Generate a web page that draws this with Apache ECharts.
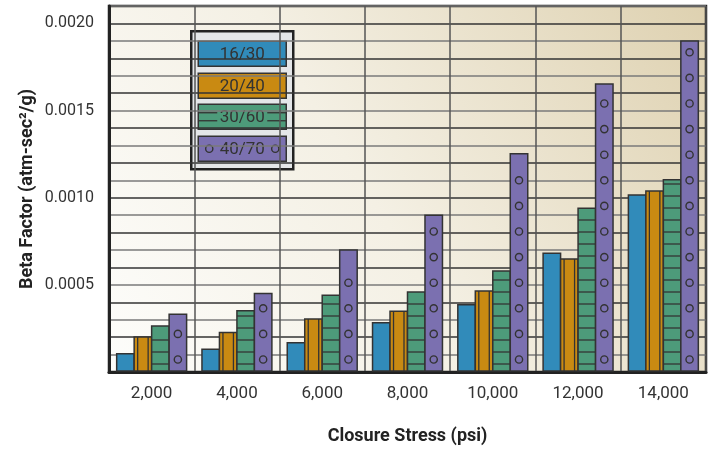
<!DOCTYPE html>
<html>
<head>
<meta charset="utf-8">
<script src="https://cdn.jsdelivr.net/npm/echarts@6/dist/echarts.min.js"></script>
<style>
  html, body { margin: 0; padding: 0; background: #fff; }
  #chart { width: 713px; height: 453px; }
</style>
</head>
<body>
<div id="chart"></div>
<script>
// data
var categories = ["2,000", "4,000", "6,000", "8,000", "10,000", "12,000", "14,000"];
var seriesNames = ["16/30", "20/40", "30/60", "40/70"];
var mesh1630 = [0.000105, 0.000130, 0.000168, 0.000283, 0.000386, 0.000681, 0.001015];
var mesh2040 = [0.000201, 0.000226, 0.000304, 0.000348, 0.000465, 0.000648, 0.001038];
var mesh3060 = [0.000264, 0.000352, 0.000440, 0.000459, 0.000579, 0.000939, 0.001103];
var mesh4070 = [0.000331, 0.000451, 0.000700, 0.000899, 0.001252, 0.001652, 0.001899];
var yTickLabels = ["0.0005", "0.0010", "0.0015", "0.0020"];

var colors = ["#318bba", "#c98a12", "#4d9b7a", "#7b70b0"];
var FONT = "Roboto, 'Liberation Sans', sans-serif";
var INK = "#333";

function makeRender(idx) {
  return function (params, api) {
    var c = api.value(0), v = api.value(1);
    var band = api.size([1, 0])[0];
    var bw = band * 0.205;
    var p0 = api.coord([c, 0]);
    var base = p0[1] - 1;
    var top = api.coord([c, v])[1];
    var x = p0[0] - 2 * bw + idx * bw;
    var kids = [{
      type: "rect",
      shape: { x: x, y: top, width: bw, height: base - top },
      style: { fill: colors[idx], stroke: INK, lineWidth: 1.5 }
    }];
    if (idx === 1) {
      [3.5, bw - 3.5].forEach(function (dx) {
        kids.push({ type: "line", shape: { x1: x + dx, y1: top, x2: x + dx, y2: base },
          style: { stroke: INK, lineWidth: 1.3 } });
      });
    } else if (idx === 2) {
      for (var y = base - 7; y > top + 4; y -= 12) {
        kids.push({ type: "line", shape: { x1: x, y1: y, x2: x + bw, y2: y },
          style: { stroke: INK, lineWidth: 1.3 } });
      }
    } else if (idx === 3) {
      for (var cy = base - 11.5; cy > top + 8; cy -= 25.6) {
        kids.push({ type: "circle", shape: { cx: x + bw / 2, cy: cy, r: 3.6 },
          style: { fill: "none", stroke: INK, lineWidth: 1.4 } });
      }
    }
    return { type: "group", children: kids };
  };
}

var allValues = [mesh1630, mesh2040, mesh3060, mesh4070];
var series = allValues.map(function (vals, i) {
  return {
    name: seriesNames[i],
    type: "custom",
    renderItem: makeRender(i),
    encode: { x: 0, y: 1 },
    data: vals.map(function (v, j) { return [j, v]; })
  };
});

// legend box drawn as graphic (text sits inside the swatches)
function legendItem(i, top) {
  var kids = [{
    type: "rect", shape: { x: 0, y: 0, width: 88, height: 25 },
    style: { fill: colors[i], stroke: INK, lineWidth: 1.5 }
  }];
  if (i === 2) {
    [[0, 19], [69, 88]].forEach(function (r) {
      [8.5, 16.5].forEach(function (yy) {
        kids.push({ type: "line", shape: { x1: r[0], y1: yy, x2: r[1], y2: yy },
          style: { stroke: INK, lineWidth: 1.3 } });
      });
    });
  }
  if (i === 3) {
    [11, 77].forEach(function (cx) {
      kids.push({ type: "circle", shape: { cx: cx, cy: 12.5, r: 3.6 },
        style: { fill: "none", stroke: INK, lineWidth: 1.4 } });
    });
  }
  kids.push({
    type: "text", x: 44, y: 13,
    style: {
      text: seriesNames[i], fontSize: 17, fontFamily: FONT, fontStyle: "normal",
      fill: INK, align: "center", verticalAlign: "middle"
    }
  });
  return { type: "group", x: 7, y: top, children: kids };
}

var option = {
  animation: false,
  backgroundColor: "#fff",
  grid: {
    left: 109, right: 7, top: 6, bottom: 81,
    outerBoundsMode: "none",
    show: true,
    borderColor: "#222",
    borderWidth: 2.5,
    backgroundColor: new echarts.graphic.LinearGradient(0, 1, 1, 0, [
      { offset: 0, color: "#fdfdfb" },
      { offset: 0.45, color: "#f4f0e4" },
      { offset: 1, color: "#ded1b0" }
    ])
  },
  xAxis: {
    type: "category",
    data: categories,
    name: "Closure Stress (psi)",
    nameLocation: "middle",
    nameGap: 55,
    nameTextStyle: { fontFamily: FONT, fontSize: 18, fontWeight: "bold", color: "#222" },
    axisLine: { lineStyle: { color: "#222", width: 3 } },
    axisTick: { show: false },
    axisLabel: { fontFamily: FONT, fontSize: 17, color: INK, margin: 13 },
    splitLine: { show: true, interval: 0, lineStyle: { color: "#555", width: 1.5 } }
  },
  yAxis: {
    type: "value",
    min: 0,
    max: 0.0021,
    interval: 0.0001,
    name: "Beta Factor (atm-sec²/g)",
    nameLocation: "middle",
    nameGap: 73,
    nameMoveOverlap: false,
    nameTextStyle: { fontFamily: FONT, fontSize: 18, fontWeight: "bold", color: "#222" },
    axisLine: { show: true, lineStyle: { color: "#222", width: 3 } },
    axisTick: { show: false },
    axisLabel: {
      fontFamily: FONT, fontSize: 16, color: INK, margin: 15,
      formatter: function (v) {
        var s = v.toFixed(4);
        return yTickLabels.indexOf(s) >= 0 ? s : "";
      }
    },
    splitLine: { show: true, lineStyle: { color: ["#333", "#7a7a7a"], width: 1.5 } }
  },
  series: series,
  graphic: [{
    type: "group",
    left: 190, top: 30,
    z: 100,
    children: [{
      type: "rect", shape: { x: 0, y: 0, width: 102, height: 138 },
      style: { fill: "#e4e6e8", stroke: "#222", lineWidth: 2.5 }
    }, legendItem(0, 10), legendItem(1, 42), legendItem(2, 73), legendItem(3, 105)]
  }]
};

var chart = echarts.init(document.getElementById("chart"));
chart.setOption(option);
</script>
</body>
</html>
